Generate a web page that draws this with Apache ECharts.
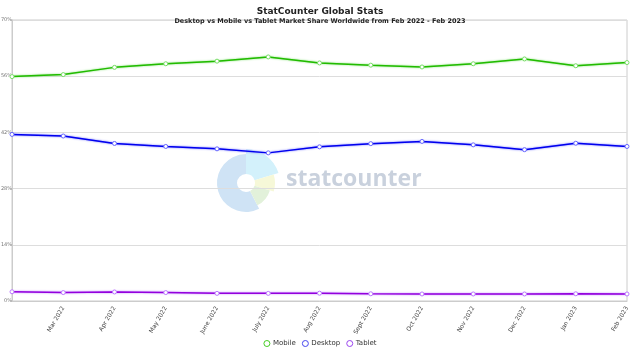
<!DOCTYPE html>
<html><head><meta charset="utf-8">
<script src="https://cdn.jsdelivr.net/npm/echarts@6/dist/echarts.min.js"></script>
<style>html,body{margin:0;padding:0;background:#fff}#c{width:640px;height:360px}</style>
</head><body><div id="c"></div>
<script>
const categories = ['Feb 2022','Mar 2022','Apr 2022','May 2022','June 2022','July 2022','Aug 2022','Sept 2022','Oct 2022','Nov 2022','Dec 2022','Jan 2023','Feb 2023'];
const mobile  = [55.9, 56.4, 58.2, 59.1, 59.75, 60.8, 59.3, 58.75, 58.3, 59.1, 60.3, 58.6, 59.4];
const desktop = [41.5, 41.1, 39.25, 38.5, 37.9, 36.9, 38.4, 39.2, 39.75, 38.9, 37.7, 39.3, 38.5];
const tablet  = [2.3, 2.1, 2.25, 2.1, 1.9, 1.9, 1.95, 1.8, 1.75, 1.75, 1.75, 1.8, 1.75];
const yTicks = [0, 14, 28, 42, 56, 70];

const chart = echarts.init(document.getElementById('c'));
function ser(name, data, color, fill) {
  return {
    name, type: 'line', data, symbol: 'circle', symbolSize: 4,
    itemStyle: { color: '#fff', borderColor: fill, borderWidth: 1 },
    lineStyle: { color: color, width: 1.5, shadowColor: fill, shadowBlur: 2 },
    emphasis: { disabled: true }, z: 3
  };
}
chart.setOption({
  animation: false,
  textStyle: { fontFamily: 'DejaVu Sans' },
  title: {
    text: 'StatCounter Global Stats',
    subtext: 'Desktop vs Mobile vs Tablet Market Share Worldwide from Feb 2022 - Feb 2023',
    left: 'center', top: 2, itemGap: 2,
    textStyle: { fontSize: 9, fontWeight: 'bold', color: '#222', fontFamily: 'DejaVu Sans' },
    subtextStyle: { fontSize: 6.5, fontWeight: 'bold', color: '#222', fontFamily: 'DejaVu Sans' }
  },
  legend: {
    bottom: 8, left: 'center', itemWidth: 6, itemHeight: 6, itemGap: 6,
    icon: 'circle',
    textStyle: { fontSize: 7, color: '#333', padding: [0,0,0,-2] },
    data: [
      { name: 'Mobile', icon: 'circle', itemStyle: { color: '#ffffff', borderColor: '#44cc22', borderWidth: 1, opacity: 1 } },
      { name: 'Desktop', icon: 'circle', itemStyle: { color: '#ffffff', borderColor: '#4444ee', borderWidth: 1, opacity: 1 } },
      { name: 'Tablet', icon: 'circle', itemStyle: { color: '#ffffff', borderColor: '#9944ee', borderWidth: 1, opacity: 1 } }
    ]
  },
  grid: { left: 12, right: 13, top: 20, bottom: 59, show: true, borderColor: '#ccc', borderWidth: 1, outerBoundsMode: 'none', containLabel: false },
  xAxis: {
    type: 'category', data: categories, boundaryGap: false,
    axisLine: { lineStyle: { color: '#ccc' } },
    axisTick: { show: false },
    axisLabel: { rotate: 60, fontSize: 6, color: '#444', margin: 6,
      interval: 0, formatter: (v, i) => i === 0 ? '' : v },
    splitLine: { show: false }
  },
  yAxis: {
    type: 'value', min: 0, max: 70, interval: 14,
    axisLine: { show: true, lineStyle: { color: '#ccc' } },
    axisTick: { show: false },
    axisLabel: { fontSize: 5, color: '#777', margin: 0, formatter: v => yTicks.includes(v) ? v + '%' : '' },
    splitLine: { lineStyle: { color: '#ddd' } }
  },
  graphic: [
    { type: 'sector', shape: { cx: 246, cy: 183, r: 29, r0: 9, startAngle: 1.1, endAngle: Math.PI * 1.5 }, style: { fill: '#cfe3f5' }, z: 0, silent: true },
    { type: 'sector', shape: { cx: 246, cy: 183, r: 34, r0: 9, startAngle: -Math.PI / 2, endAngle: -0.3 }, style: { fill: '#d3f1fb' }, z: 0, silent: true },
    { type: 'sector', shape: { cx: 246, cy: 183, r: 29, r0: 9, startAngle: -0.3, endAngle: 0.3 }, style: { fill: '#f6f8d8' }, z: 0, silent: true },
    { type: 'sector', shape: { cx: 246, cy: 183, r: 25, r0: 9, startAngle: 0.3, endAngle: 1.1 }, style: { fill: '#e2f1da' }, z: 0, silent: true },
    { type: 'text', left: 286, top: 168, style: { text: 'statcounter', fill: '#c9d1dd', font: 'bold 23px "Open Sans", "DejaVu Sans", sans-serif' }, z: 0, silent: true }
  ],
  series: [
    ser('Mobile', mobile, '#22bb00', '#77dd66'),
    ser('Desktop', desktop, '#0000ee', '#6666ff'),
    ser('Tablet', tablet, '#9400dd', '#bb77ff')
  ]
});
</script></body></html>
